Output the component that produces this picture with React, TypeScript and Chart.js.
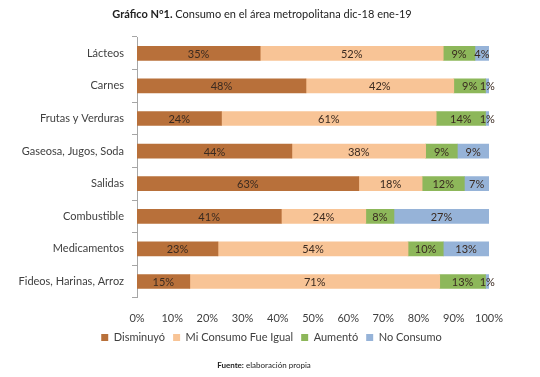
import React, { useEffect, useRef } from "react";
import { Chart, registerables } from "chart.js";

Chart.register(...registerables);

const categories = [
  "Lácteos",
  "Carnes",
  "Frutas y Verduras",
  "Gaseosa, Jugos, Soda",
  "Salidas",
  "Combustible",
  "Medicamentos",
  "Fideos, Harinas, Arroz",
];
const disminuyo = [35, 48, 24, 44, 63, 41, 23, 15];
const igual = [52, 42, 61, 38, 18, 24, 54, 71];
const aumento = [9, 9, 14, 9, 12, 8, 10, 13];
const noConsumo = [4, 1, 1, 9, 7, 27, 13, 1];
const seriesNames = ["Disminuyó", "Mi Consumo Fue Igual", "Aumentó", "No Consumo"];
const xTicks = [0, 10, 20, 30, 40, 50, 60, 70, 80, 90, 100];

const FONT = "Lato, 'Open Sans', sans-serif";
const colors = ["#B8703A", "#F8C496", "#8DB75A", "#96B3D8"];

const legendShift = {
  id: "legendShift",
  afterLayout(chart: any) {
    if (chart.legend) {
      chart.legend.left += 27;
      chart.legend.right += 27;
    }
  },
};

const textPlugin = {
  id: "extraText",
  afterDraw(chart: any) {
    const ctx = chart.ctx;
    ctx.save();
    ctx.textBaseline = "middle";
    // Title
    ctx.fillStyle = "#222";
    ctx.font = `bold 11px ${FONT}`;
    const t1 = "Gráfico N°1.";
    const t2 = " Consumo en el área metropolitana dic-18 ene-19";
    const w1 = ctx.measureText(t1).width;
    ctx.font = `11px ${FONT}`;
    const w2 = ctx.measureText(t2).width;
    let x = 262 - (w1 + w2) / 2;
    ctx.font = `bold 11px ${FONT}`;
    ctx.fillText(t1, x, 14);
    ctx.font = `11px ${FONT}`;
    ctx.fillText(t2, x + w1, 14);
    // Source
    ctx.font = `bold 8px ${FONT}`;
    const s1 = "Fuente:";
    const s2 = " elaboración propia";
    const sw1 = ctx.measureText(s1).width;
    ctx.font = `8px ${FONT}`;
    const sw2 = ctx.measureText(s2).width;
    x = 264 - (sw1 + sw2) / 2;
    ctx.font = `bold 8px ${FONT}`;
    ctx.fillText(s1, x, 365);
    ctx.font = `8px ${FONT}`;
    ctx.fillText(s2, x + sw1, 365);
    // Data labels
    ctx.textAlign = "center";
    ctx.font = `11px ${FONT}`;
    ctx.fillStyle = "#3a2a20";
    chart.data.datasets.forEach((ds: any, di: number) => {
      const meta = chart.getDatasetMeta(di);
      meta.data.forEach((bar: any, i: number) => {
        const v = ds.data[i];
        if (!v) return;
        const cx = (bar.x + bar.base) / 2;
        ctx.fillText(v + "%", cx, bar.y + 1);
      });
    });
    ctx.restore();
  },
};

export default function App() {
  const ref = useRef<HTMLCanvasElement | null>(null);
  useEffect(() => {
    if (!ref.current) return;
    const data = [disminuyo, igual, aumento, noConsumo];
    const chart = new Chart(ref.current, {
      type: "bar",
      data: {
        labels: categories,
        datasets: data.map((d, i) => ({
          label: seriesNames[i],
          data: d,
          backgroundColor: colors[i],
          borderWidth: 0,
          barThickness: 14,
        })),
      },
      options: {
        indexAxis: "y",
        animation: false,
        responsive: false,
        maintainAspectRatio: false,
        layout: { padding: { top: 37, right: 51, bottom: 24, left: 0 } },
        scales: {
          x: {
            stacked: true,
            min: 0,
            max: 100,
            afterBuildTicks: (scale: any) => {
              scale.ticks = xTicks.map((v) => ({ value: v }));
            },
            afterFit: (scale: any) => {
              scale.height = scale.height - 7;
            },
            ticks: {
              callback: (v: any) => v + "%",
              color: "#404040",
              font: { family: FONT, size: 11 },
              maxRotation: 0,
              padding: 6,
            },
            grid: { display: false },
            border: { display: false },
          },
          y: {
            stacked: true,
            afterFit: (scale: any) => {
              scale.width = 137;
            },
            ticks: {
              color: "#404040",
              font: { family: FONT, size: 11 },
              padding: 8,
            },
            grid: {
              drawOnChartArea: false,
              drawTicks: true,
              tickLength: 5,
              color: "#A6A6A6",
              offset: true,
            },
            border: { display: true, color: "#A6A6A6", width: 1 },
          },
        },
        plugins: {
          legend: {
            position: "bottom",
            align: "center",
            labels: {
              boxWidth: 7,
              boxHeight: 7,
              padding: 8,
              color: "#404040",
              font: { family: FONT, size: 11 },
            },
          },
          tooltip: { enabled: false },
          title: { display: false },
        },
      },
      plugins: [legendShift, textPlugin],
    } as any);
    return () => chart.destroy();
  }, []);
  return (
    <div style={{ position: "fixed", left: 0, top: 0, width: 540, height: 377, background: "#fff" }}>
      <canvas ref={ref} width={540} height={377} />
    </div>
  );
}
